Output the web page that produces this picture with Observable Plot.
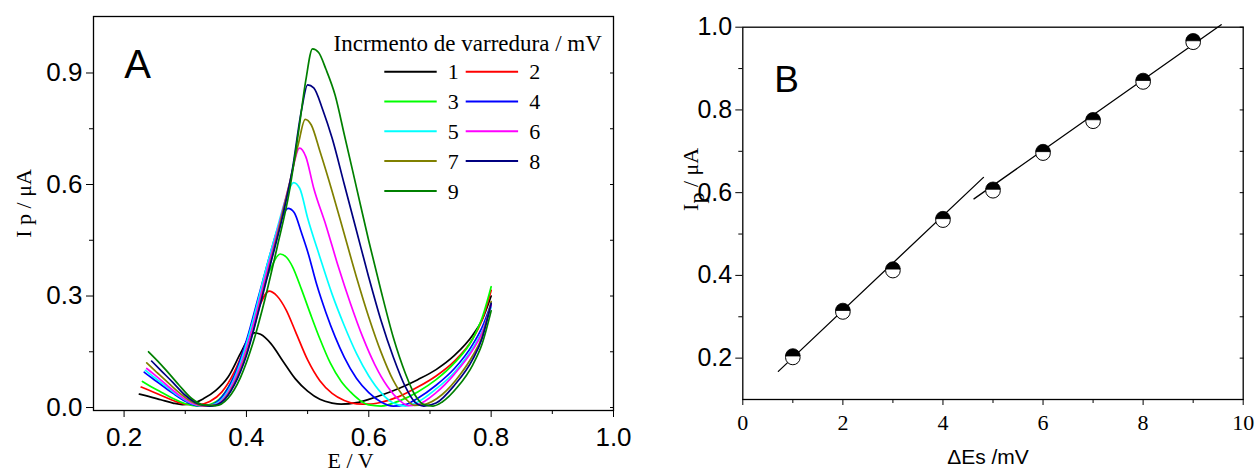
<!DOCTYPE html>
<html><head><meta charset="utf-8">
<script src="https://cdn.jsdelivr.net/npm/d3@7"></script>
<script src="https://cdn.jsdelivr.net/npm/@observablehq/plot@0.6"></script>
<style>
body{margin:0;background:#fff;}
#wrap{position:relative;width:1259px;height:473px;overflow:hidden;background:#fff;}
#a,#b{position:absolute;top:0;}
#a{left:0}#b{left:640px}
</style></head><body><div id="wrap"><div id="a"></div><div id="b"></div></div>
<script>
// ---------- Panel A data: E (V), Ip (µA) ----------
const seriesLabels = ["1","2","3","4","5","6","7","8","9"];
const seriesColors = ["#000000","#ff0000","#00ff00","#0000ff","#00ffff","#ff00ff","#808000","#000080","#008000"];
const legendTitle = "Incrmento de varredura / mV";

const curve1 = [[0.225,0.036],[0.24,0.030],[0.26,0.021],[0.28,0.012],[0.295,0.008],[0.31,0.010],[0.33,0.024],[0.35,0.046],[0.37,0.082],[0.39,0.145],[0.403,0.185],[0.413,0.201],[0.423,0.197],[0.44,0.172],[0.46,0.124],[0.48,0.077],[0.50,0.044],[0.52,0.022],[0.54,0.012],[0.555,0.009],[0.58,0.013],[0.60,0.022],[0.62,0.033],[0.65,0.052],[0.68,0.075],[0.71,0.102],[0.74,0.14],[0.77,0.195],[0.785,0.235],[0.80,0.30]];
const curve2 = [[0.228,0.055],[0.24,0.047],[0.26,0.033],[0.28,0.019],[0.30,0.009],[0.32,0.007],[0.34,0.016],[0.36,0.042],[0.38,0.095],[0.40,0.175],[0.42,0.268],[0.437,0.313],[0.45,0.300],[0.465,0.262],[0.48,0.205],[0.50,0.128],[0.52,0.072],[0.54,0.038],[0.56,0.019],[0.58,0.010],[0.60,0.009],[0.62,0.014],[0.65,0.030],[0.68,0.055],[0.71,0.085],[0.74,0.125],[0.77,0.185],[0.785,0.235],[0.80,0.315]];
const curve3 = [[0.23,0.070],[0.245,0.055],[0.26,0.042],[0.28,0.024],[0.30,0.010],[0.32,0.004],[0.34,0.008],[0.36,0.03],[0.38,0.085],[0.40,0.175],[0.42,0.285],[0.44,0.375],[0.455,0.413],[0.465,0.405],[0.475,0.38],[0.49,0.318],[0.505,0.25],[0.52,0.185],[0.537,0.12],[0.555,0.07],[0.57,0.042],[0.585,0.02],[0.60,0.007],[0.62,0.004],[0.65,0.018],[0.68,0.042],[0.71,0.075],[0.74,0.12],[0.77,0.185],[0.785,0.24],[0.80,0.325]];
const curve4 = [[0.233,0.095],[0.245,0.08],[0.26,0.062],[0.28,0.038],[0.30,0.017],[0.32,0.005],[0.34,0.006],[0.36,0.028],[0.38,0.085],[0.40,0.18],[0.42,0.30],[0.44,0.42],[0.455,0.50],[0.468,0.536],[0.478,0.525],[0.49,0.47],[0.50,0.42],[0.515,0.33],[0.53,0.255],[0.545,0.19],[0.56,0.135],[0.58,0.078],[0.60,0.04],[0.62,0.015],[0.64,0.004],[0.66,0.008],[0.68,0.025],[0.71,0.06],[0.74,0.105],[0.77,0.17],[0.785,0.215],[0.80,0.28]];
const curve5 = [[0.235,0.100],[0.25,0.08],[0.27,0.055],[0.29,0.03],[0.31,0.011],[0.33,0.004],[0.35,0.01],[0.37,0.045],[0.39,0.12],[0.41,0.23],[0.43,0.36],[0.45,0.48],[0.465,0.565],[0.477,0.605],[0.487,0.59],[0.50,0.51],[0.52,0.405],[0.54,0.305],[0.56,0.22],[0.58,0.145],[0.60,0.085],[0.62,0.04],[0.64,0.012],[0.66,0.004],[0.68,0.015],[0.71,0.05],[0.74,0.095],[0.77,0.16],[0.785,0.205],[0.80,0.27]];
const curve6 = [[0.237,0.105],[0.25,0.088],[0.27,0.06],[0.29,0.033],[0.31,0.012],[0.33,0.004],[0.35,0.008],[0.37,0.04],[0.39,0.11],[0.41,0.215],[0.43,0.345],[0.45,0.47],[0.47,0.60],[0.487,0.698],[0.497,0.675],[0.51,0.59],[0.53,0.49],[0.55,0.38],[0.57,0.28],[0.59,0.19],[0.61,0.115],[0.63,0.058],[0.65,0.02],[0.665,0.005],[0.68,0.008],[0.71,0.04],[0.74,0.09],[0.77,0.155],[0.785,0.2],[0.80,0.275]];
const curve7 = [[0.237,0.120],[0.25,0.10],[0.27,0.07],[0.29,0.04],[0.31,0.016],[0.33,0.005],[0.35,0.006],[0.37,0.035],[0.39,0.10],[0.41,0.20],[0.43,0.33],[0.45,0.46],[0.47,0.60],[0.485,0.71],[0.496,0.775],[0.506,0.76],[0.52,0.69],[0.54,0.582],[0.56,0.466],[0.58,0.35],[0.60,0.243],[0.62,0.149],[0.64,0.073],[0.66,0.024],[0.675,0.006],[0.69,0.008],[0.72,0.035],[0.75,0.09],[0.77,0.14],[0.785,0.19],[0.80,0.285]];
const curve8 = [[0.245,0.125],[0.26,0.10],[0.28,0.067],[0.30,0.033],[0.32,0.011],[0.34,0.004],[0.36,0.015],[0.38,0.06],[0.40,0.14],[0.42,0.26],[0.44,0.39],[0.46,0.52],[0.475,0.64],[0.49,0.80],[0.50,0.868],[0.51,0.86],[0.525,0.80],[0.54,0.725],[0.56,0.60],[0.58,0.475],[0.60,0.35],[0.62,0.234],[0.64,0.136],[0.66,0.055],[0.675,0.015],[0.69,0.004],[0.71,0.012],[0.74,0.06],[0.77,0.13],[0.785,0.185],[0.80,0.28]];
const curve9 = [[0.24,0.150],[0.255,0.125],[0.27,0.098],[0.29,0.06],[0.31,0.025],[0.33,0.007],[0.35,0.005],[0.37,0.025],[0.39,0.08],[0.41,0.17],[0.43,0.29],[0.45,0.43],[0.47,0.58],[0.485,0.74],[0.497,0.88],[0.508,0.965],[0.518,0.955],[0.53,0.91],[0.545,0.84],[0.56,0.734],[0.58,0.591],[0.60,0.448],[0.62,0.314],[0.64,0.189],[0.66,0.091],[0.675,0.035],[0.69,0.008],[0.705,0.004],[0.72,0.015],[0.745,0.055],[0.77,0.115],[0.785,0.17],[0.80,0.26]];
const curvesA = [curve1,curve2,curve3,curve4,curve5,curve6,curve7,curve8,curve9];

const xTicksA = [0.2,0.4,0.6,0.8,1.0];
const xMinorA = [0.3,0.5,0.7,0.9];
const yTicksA = [0.0,0.3,0.6,0.9];
const yMinorA = [0.15,0.45,0.75];

// ---------- Panel B data ----------
const stepIncrements = [1,2,3,4,5,6,7,8,9];
const peakCurrents = [0.204,0.314,0.414,0.536,0.607,0.698,0.775,0.870,0.966];
const fitLowE = [0.71,4.81];
const fitLowI = [0.168,0.637];
const fitHighE = [4.62,9.56];
const fitHighI = [0.585,1.006];
const xTicksB = [0,2,4,6,8,10];
const xMinorB = [1,3,5,7,9];
const yTicksB = [0.2,0.4,0.6,0.8,1.0];
const yMinorB = [0.3,0.5,0.7,0.9];

const sans = '"Liberation Sans", Arial, sans-serif';
const serif = '"Liberation Serif", "Times New Roman", serif';
const blank = () => "";

// ---------- Panel A ----------
const rowsA = curvesA.flatMap((c, i) => c.map(([E, I]) => ({E, I, s: seriesLabels[i]})));
const plotA = Plot.plot({
  width: 640, height: 473,
  marginLeft: 93, marginRight: 27, marginTop: 16, marginBottom: 63,
  x: {domain: [0.15, 1.0]},
  y: {domain: [-0.008, 1.052]},
  color: {domain: seriesLabels, range: seriesColors},
  style: {background: "#fff", color: "#000", fontFamily: sans, overflow: "visible"},
  marks: [
    Plot.line(rowsA, {x: "E", y: "I", z: "s", stroke: "s", strokeWidth: 1.7, curve: "monotone-x"}),
    Plot.frame({stroke: "#000", strokeWidth: 1.3}),
    Plot.axisX({ticks: xTicksA, tickSize: 7, tickPadding: 10, fontSize: 26, tickFormat: d3.format(".1f"), label: null}),
    Plot.axisX({ticks: xMinorA, tickSize: 4, tickFormat: blank, label: null}),
    Plot.axisY({ticks: yTicksA, tickSize: 7, tickPadding: 4, fontSize: 26, tickFormat: d3.format(".1f"), label: null}),
    Plot.axisY({ticks: yMinorA, tickSize: 4, tickFormat: blank, label: null}),
    Plot.axisY({ticks: yTicksA.concat(yMinorA), anchor: "right", tickSize: 4, dx: -4, tickFormat: blank, label: null}),
    Plot.text(["E / V"], {frameAnchor: "bottom", dy: 50, dx: -3, fontFamily: serif, fontSize: 22, textAnchor: "middle", lineAnchor: "middle"}),
    Plot.text(["I p / \u03bcA"], {frameAnchor: "left", rotate: -90, dx: -70, dy: -10, fontFamily: serif, fontSize: 22, textAnchor: "middle", lineAnchor: "middle"}),
    Plot.text(["A"], {frameAnchor: "top-left", dx: 44, dy: 49, fontSize: 40, textAnchor: "middle", lineAnchor: "middle"})
  ]
});
document.getElementById("a").append(plotA);

// legend inside panel A
const leg = d3.select(plotA).append("g").attr("font-family", serif).attr("fill", "#000");
leg.append("text").attr("x", 467.7).attr("y", 51).attr("text-anchor", "middle").attr("font-size", 23).text(legendTitle);
seriesLabels.forEach((lab, i) => {
  const col = i % 2, row = Math.floor(i / 2);
  const y = 71.7 + row * 29.8;
  const x0 = col ? 465.7 : 384.3;
  leg.append("line").attr("x1", x0).attr("x2", x0 + 52.4).attr("y1", y).attr("y2", y)
    .attr("stroke", seriesColors[i]).attr("stroke-width", 2);
  leg.append("text").attr("x", x0 + 69).attr("y", y).attr("dy", "0.35em")
    .attr("text-anchor", "middle").attr("font-size", 22).text(lab);
});

// ---------- Panel B ----------
const halfTop = {
  draw(context, size) {
    const r = Math.sqrt(size / Math.PI);
    context.moveTo(r, 0);
    context.arc(0, 0, r, 0, Math.PI, true);
    context.closePath();
  }
};
const pointsB = stepIncrements.map((x, i) => ({x, y: peakCurrents[i]}));
const fitLow = fitLowE.map((x, i) => ({x, y: fitLowI[i]}));
const fitHigh = fitHighE.map((x, i) => ({x, y: fitHighI[i]}));

const plotB = Plot.plot({
  width: 619, height: 473,
  marginLeft: 102.3, marginRight: 16.3, marginTop: 26.7, marginBottom: 74,
  x: {domain: [0, 10]},
  y: {domain: [0.1, 1.0]},
  style: {background: "#fff", color: "#000", fontFamily: sans, overflow: "visible"},
  marks: [
    Plot.frame({stroke: "#000", strokeWidth: 1.3}),
    Plot.line(fitLow, {x: "x", y: "y", stroke: "#000", strokeWidth: 1.3}),
    Plot.line(fitHigh, {x: "x", y: "y", stroke: "#000", strokeWidth: 1.3}),
    Plot.dot(pointsB, {x: "x", y: "y", r: 7.3, fill: "#fff", stroke: "#000", strokeWidth: 1, dy: 1}),
    Plot.dot(pointsB, {x: "x", y: "y", r: 7.3, symbol: halfTop, fill: "#000", stroke: "#000", strokeWidth: 0.8, dy: -0.5}),
    Plot.axisX({ticks: xTicksB, tickSize: 6, tickPadding: 9, fontSize: 22, fontFamily: serif, tickFormat: d3.format("d"), label: null}),
    Plot.axisX({ticks: xMinorB, tickSize: 4, tickFormat: blank, label: null}),
    Plot.axisY({ticks: yTicksB, tickSize: 7, tickPadding: 3.6, fontSize: 25, tickFormat: d3.format(".1f"), label: null}),
    Plot.axisY({ticks: yMinorB, tickSize: 4, tickFormat: blank, label: null}),
    Plot.axisY({ticks: yTicksB.concat(yMinorB), anchor: "right", tickSize: 4, dx: -4, tickFormat: blank, label: null}),
    Plot.text(["\u0394Es /mV"], {frameAnchor: "bottom", dy: 58, dx: -5, fontSize: 21, textAnchor: "middle", lineAnchor: "middle"}),
    Plot.text(["Ip / \u03bcA"], {frameAnchor: "left", rotate: -90, dx: -52, dy: -34, fontFamily: serif, fontSize: 22, textAnchor: "middle", lineAnchor: "middle"}),
    Plot.text(["B"], {frameAnchor: "top-left", dx: 43.7, dy: 52.8, fontSize: 37, textAnchor: "middle", lineAnchor: "middle"})
  ]
});
document.getElementById("b").append(plotB);

// subscript p in panel B y label
d3.select(plotB).selectAll("text").filter(function() { return this.textContent === "Ip / \u03bcA"; })
  .each(function() {
    const t = d3.select(this);
    t.text(null);
    t.append("tspan").text("I");
    t.append("tspan").attr("dy", "0.3em").text("p");
    t.append("tspan").attr("dy", "-0.3em").text(" / \u03bcA");
  });
</script>
</body></html>
